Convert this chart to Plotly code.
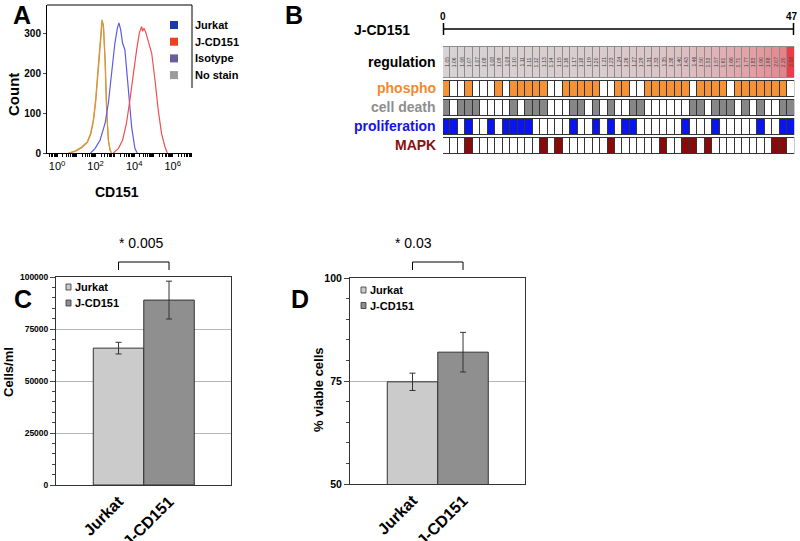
import plotly.graph_objects as go

W, H = 800, 541
FONT = "Liberation Sans, Arial, sans-serif"

# ---------------- Panel A data (log10 intensity, count) ----------------
iso_log = [0.59, 0.93, 1.28, 1.57, 1.74, 1.88, 2.00, 2.11, 2.19, 2.28, 2.33, 2.40, 2.49, 2.57, 2.66, 2.75, 2.83]
iso_cnt = [0, 5, 15, 28, 49, 82, 133, 200, 267, 317, 334, 322, 233, 107, 32, 7, 0]
nos_log = [0.62, 0.95, 1.30, 1.58, 1.75, 1.89, 2.01, 2.12, 2.20, 2.29, 2.34, 2.41, 2.50, 2.58, 2.67, 2.76, 2.84]
nos_cnt = [0, 4, 14, 27, 47, 80, 130, 197, 262, 312, 328, 318, 228, 104, 30, 6, 0]
jur_log = [1.74, 1.97, 2.23, 2.49, 2.66, 2.83, 3.00, 3.13, 3.21, 3.30, 3.40, 3.52, 3.70, 3.87, 4.04, 4.16]
jur_cnt = [0, 11, 32, 74, 124, 200, 275, 313, 326, 309, 275, 259, 158, 65, 11, 0]
jcd_log = [2.92, 3.18, 3.40, 3.60, 3.78, 3.95, 4.13, 4.27, 4.39, 4.44, 4.51, 4.61, 4.73, 4.91, 5.08, 5.25, 5.42, 5.60, 5.72]
jcd_cnt = [0, 11, 32, 74, 133, 200, 259, 301, 317, 305, 313, 301, 280, 250, 183, 107, 49, 15, 0]
a_legend_names = ["Jurkat", "J-CD151", "Isotype", "No stain"]
a_legend_colors = ["#1c3aa6", "#f2401e", "#6c5c98", "#9c9c9c"]
a_y_ticks = [0, 100, 200, 300]
a_x_label_exps = [0, 2, 4, 6]

# ---------------- Panel B data ----------------
regulation = [1.05, 1.06, 1.06, 1.07, 1.07, 1.08, 1.08, 1.09, 1.09, 1.10,
              1.11, 1.11, 1.12, 1.13, 1.14, 1.15, 1.16, 1.17, 1.18, 1.19,
              1.20, 1.21, 1.23, 1.24, 1.26, 1.27, 1.29, 1.31, 1.33, 1.35,
              1.38, 1.40, 1.43, 1.46, 1.50, 1.53, 1.57, 1.61, 1.66, 1.71,
              1.77, 1.83, 1.90, 1.98, 2.07, 2.20, 2.58]
phospho = [1,0,0,1,0,0,0,1,0,1, 1,1,1,1,0,0,1,1,1,1, 1,0,0,1,1,0,0,1,1,1, 1,1,1,0,1,1,1,1,0,1, 1,1,1,1,1,1,0]
cell_death = [1,0,1,1,1,0,0,0,0,1, 0,1,1,1,0,0,0,1,1,0, 1,0,1,0,0,1,1,0,0,0, 0,0,0,1,1,0,1,1,1,0, 1,0,1,0,0,1,1]
proliferation = [1,1,0,1,0,0,1,0,1,1, 1,1,0,0,0,0,0,1,0,0, 1,0,1,0,1,1,0,0,0,0, 0,0,1,0,0,0,1,0,0,0, 0,0,1,0,0,1,1]
mapk = [0,0,0,1,0,0,0,0,0,0, 0,0,0,1,0,1,0,0,0,0, 0,0,1,0,0,0,0,0,0,1, 0,0,1,1,0,1,0,0,0,0, 0,0,0,0,1,1,0]
b_rows = ["phospho", "cell death", "proliferation", "MAPK"]
b_row_data = [phospho, cell_death, proliferation, mapk]
b_row_colors = ["#f39237", "#878787", "#0a14f0", "#8a0a0a"]
b_label_colors = ["#f08a2e", "#8e8e8e", "#1414e6", "#8b1010"]
b_scale_labels = ["0", "47"]

# ---------------- Panels C / D data ----------------
groups = ["Jurkat", "J-CD151"]
cells_mean = [65800, 88900]
cells_err = [2800, 9100]
viable_mean = [74.8, 82.0]
viable_err = [2.1, 4.8]
bar_colors = ["#cbcbcb", "#8f8f8f"]
c_ticks = [0, 25000, 50000, 75000, 100000]
c_tick_labels = ["0", "25000", "50000", "75000", "100000"]
d_ticks = [50, 75, 100]
c_pvalue = "* 0.005"
d_pvalue = "* 0.03"


def px(x):
    return x / W


def py(y):
    return 1 - y / H


fig = go.Figure()

# ---- Panel A curves ----
curves = [(nos_log, nos_cnt, "#c89a52"), (iso_log, iso_cnt, "#dc9436"),
          (jur_log, jur_cnt, "#5c5ce6"), (jcd_log, jcd_cnt, "#f0504e")]
for lg, ct, col in curves:
    fig.add_trace(go.Scatter(x=[10 ** v for v in lg], y=ct, mode="lines",
                             line=dict(color=col, width=1.2), xaxis="x", yaxis="y",
                             showlegend=False, hoverinfo="skip"))

a_tickvals, a_ticktext = [], []
for n in range(-1, 7):
    for m in range(1, 10):
        a_tickvals.append(m * 10 ** n)
        a_ticktext.append("10<sup>%d</sup>" % n if (m == 1 and n in a_x_label_exps) else "")

# ---- Panel B heatmaps ----
row_spans = [(80, 97), (99, 116), (118, 135), (137, 154)]
reg_span = (46, 78)
cols = list(range(len(regulation)))
fig.add_trace(go.Heatmap(z=[regulation], x=cols, y=list(reg_span), xaxis="x2", yaxis="y2",
                         colorscale=[[0, "#d7d2d4"], [0.2, "#dcc4c7"], [0.45, "#e2a6ab"],
                                     [0.75, "#e5838a"], [1, "#ec3c45"]],
                         showscale=False, xgap=1, ygap=2, hoverinfo="skip"))
for data, col, span in zip(b_row_data, b_row_colors, row_spans):
    fig.add_trace(go.Heatmap(z=[data], x=cols, y=list(span), xaxis="x2", yaxis="y2",
                             colorscale=[[0, "white"], [1, col]], zmin=0, zmax=1,
                             showscale=False, xgap=1, ygap=2, hoverinfo="skip"))

# ---- Panels C and D bars ----
fig.add_trace(go.Bar(x=groups, y=cells_mean, width=1, xaxis="x3", yaxis="y3",
                     marker=dict(color=bar_colors, line=dict(color="#333333", width=1)),
                     error_y=dict(type="data", array=cells_err, color="#333333", thickness=1, width=3),
                     showlegend=False, hoverinfo="skip"))
fig.add_trace(go.Bar(x=groups, y=viable_mean, width=1, xaxis="x4", yaxis="y4",
                     marker=dict(color=bar_colors, line=dict(color="#333333", width=1)),
                     error_y=dict(type="data", array=viable_err, color="#333333", thickness=1, width=3),
                     showlegend=False, hoverinfo="skip"))

shapes = []
annotations = []


def ann(text, x, y, size, bold=True, color="black", angle=0, xanchor="center", yanchor="middle"):
    annotations.append(dict(text=text, x=px(x), y=py(y), xref="paper", yref="paper",
                            showarrow=False, textangle=angle, xanchor=xanchor, yanchor=yanchor,
                            font=dict(family=FONT, size=size, color=color,
                                      weight="bold" if bold else "normal")))


def line(x0, y0, x1, y1, color="black", width=1):
    shapes.append(dict(type="line", xref="paper", yref="paper", x0=px(x0), y0=py(y0),
                       x1=px(x1), y1=py(y1), line=dict(color=color, width=width)))


def rect(x0, y0, x1, y1, fill, lc="#333333", lw=0.8):
    shapes.append(dict(type="rect", xref="paper", yref="paper", x0=px(x0), y0=py(y0),
                       x1=px(x1), y1=py(y1), fillcolor=fill, line=dict(color=lc, width=lw)))


# Panel letters
ann("A", 22, 15, 25)
ann("B", 294, 15, 25)
ann("C", 23, 299, 25)
ann("D", 300, 299, 25)

# Panel A frame + titles + legend
line(47, 5, 192, 5)
line(192, 5, 192, 88)
ann("Count", 13, 95, 15, angle=-90)
ann("CD151", 117, 192, 14)
for i, (nm, col) in enumerate(zip(a_legend_names, a_legend_colors)):
    yy = 25 + i * 16.7
    rect(170, yy - 4, 178, yy + 4, col, lc=col, lw=0)
    ann(nm, 193, yy, 11, xanchor="left")

# Panel B labels, scale bar, borders
ann("J-CD151", 412, 30, 14, xanchor="right")
ann("regulation", 438, 62, 14, xanchor="right")
for nm, col, (t, b) in zip(b_rows, b_label_colors, row_spans):
    ann(nm, 438, (t + b) / 2, 14, color=col, xanchor="right")
line(443, 29, 794, 29, width=1.5)
line(443.5, 23, 443.5, 35, width=1.5)
line(793.5, 23, 793.5, 35, width=1.5)
ann(b_scale_labels[0], 443, 16, 10)
ann(b_scale_labels[1], 792, 16, 10)
for (t, b), lc in zip([reg_span] + row_spans, ["#8c8c8c", "#333333", "#333333", "#333333", "#333333"]):
    shapes.append(dict(type="rect", xref="x2", yref="y2", x0=-0.5, x1=len(regulation) - 0.5,
                       y0=t, y1=b, fillcolor=lc, line=dict(width=0), layer="below"))
for i, v in enumerate(regulation):
    annotations.append(dict(text="%.2f" % v, x=i, y=(reg_span[0] + reg_span[1]) / 2, xref="x2", yref="y2",
                            showarrow=False, textangle=-90,
                            font=dict(family=FONT, size=5, color="#444444")))

# Panel C / D titles, legends, significance brackets
ann("Cells/ml", 8, 372, 13, angle=-90)
ann("% viable cells", 318, 390, 13, angle=-90)
for i, (nm, col) in enumerate(zip(groups, bar_colors)):
    yc = 287 + i * 16
    rect(66, yc - 3, 71, yc + 3, col)
    ann(nm, 73, yc, 11, xanchor="left")
    yd = 290 + i * 15.5
    rect(361, yd - 3, 366, yd + 3, col)
    ann(nm, 368, yd, 11, xanchor="left")
ann(c_pvalue, 141, 243, 14, bold=False)
ann(d_pvalue, 414, 243, 14, bold=False)
for xr in ["x3", "x4"]:
    for x0, y0, x1, y1 in [(0, 270, 0, 262), (0, 262, 1, 262), (1, 262, 1, 270)]:
        shapes.append(dict(type="line", xref=xr, yref="paper", x0=x0, x1=x1, y0=py(y0), y1=py(y1),
                           line=dict(color="black", width=1)))

axis_font = dict(family=FONT, size=10, color="black", weight="bold")
fig.update_layout(
    width=W, height=H, margin=dict(l=0, r=0, t=0, b=0, autoexpand=False), autosize=False,
    paper_bgcolor="white", plot_bgcolor="white",
    font=dict(family=FONT, color="black"),
    showlegend=False,
    xaxis=dict(domain=[px(47), px(192)], anchor="y", type="log", range=[-0.52, 7.0], automargin=False,
               showline=True, linecolor="black", linewidth=1, ticks="outside", ticklen=3,
               tickcolor="black", tickvals=a_tickvals, ticktext=a_ticktext,
               tickfont=dict(family=FONT, size=11, color="black"), showgrid=False, zeroline=False),
    yaxis=dict(domain=[py(153), py(5)], anchor="x", range=[0, 371], showline=True, linecolor="black",
               automargin=False,
               ticks="outside", ticklen=3, tickvals=a_y_ticks, tickfont=axis_font,
               showgrid=False, zeroline=False),
    xaxis2=dict(domain=[px(443), px(794.5)], anchor="y2", range=[-0.5, len(regulation) - 0.5],
                visible=False, automargin=False),
    yaxis2=dict(domain=[py(156), py(44)], anchor="x2", range=[156, 44], visible=False,
                automargin=False),
    xaxis3=dict(domain=[px(56), px(231)], anchor="y3", type="category", range=[-1.238, 2.227],
                automargin=False,
                showline=True, linecolor="#333333", mirror=True, ticks="", tickangle=-45,
                tickfont=dict(family=FONT, size=16, color="black", weight="bold"), showgrid=False),
    yaxis3=dict(domain=[py(485), py(277)], anchor="x3", range=[0, 100000], showline=True,
                automargin=False,
                linecolor="#333333", mirror=True, ticks="outside", ticklen=5, tickvals=c_ticks,
                ticktext=c_tick_labels,
                tickfont=dict(family=FONT, size=8.5, color="black", weight="bold"),
                showgrid=True, gridcolor="#b5b5b5", gridwidth=1, zeroline=False,
                minor=dict(dtick=5000, ticks="outside", ticklen=3, showgrid=False)),
    xaxis4=dict(domain=[px(350), px(525)], anchor="y4", type="category", range=[-1.238, 2.227],
                automargin=False,
                showline=True, linecolor="#333333", mirror=True, ticks="", tickangle=-45,
                tickfont=dict(family=FONT, size=16, color="black", weight="bold"), showgrid=False),
    yaxis4=dict(domain=[py(484), py(278)], anchor="x4", range=[50, 100], showline=True,
                automargin=False,
                linecolor="#333333", mirror=True, ticks="outside", ticklen=5, tickvals=d_ticks,
                tickfont=dict(family=FONT, size=10.5, color="black", weight="bold"),
                showgrid=True, gridcolor="#b5b5b5", gridwidth=1, zeroline=False,
                minor=dict(dtick=5, ticks="outside", ticklen=3, showgrid=False)),
    shapes=shapes, annotations=annotations,
)

fig.write_html("out.html", config={"responsive": False, "displayModeBar": False},
               post_script="document.body.style.margin='0';document.body.style.overflow='hidden';")
